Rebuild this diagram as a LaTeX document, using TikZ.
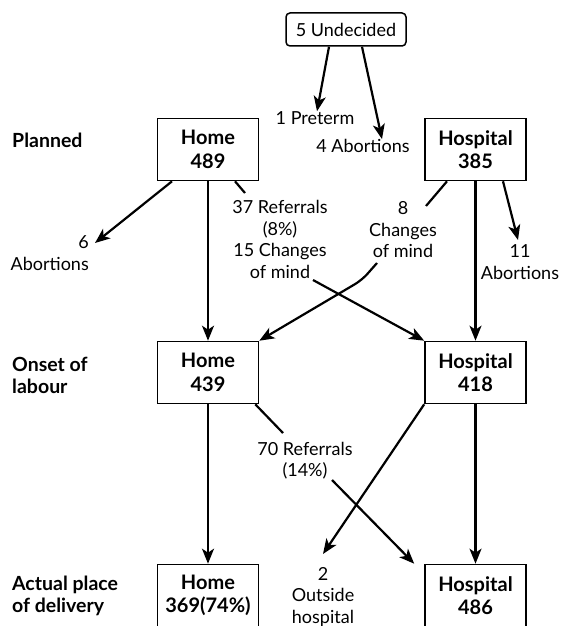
\documentclass[tikz,border=0pt]{standalone}
\usepackage{fontspec}
\setmainfont{Lato}
\usetikzlibrary{arrows.meta}
\begin{document}
\begin{tikzpicture}[x=1pt,y=-1pt,
  box/.style={draw,line width=1.6pt,minimum width=101pt,minimum height=62pt,inner sep=0pt,align=center,font=\bfseries\fontsize{20}{23.5}\selectfont},
  lbl/.style={inner sep=0pt,align=center,font=\fontsize{18}{21.5}\selectfont},
  rowlbl/.style={inner sep=0pt,align=left,anchor=west,font=\bfseries\fontsize{19.5}{22.5}\selectfont},
  con/.style={line width=2.2pt},
  arr/.style={con,-{Stealth[length=15pt,width=12pt,inset=4pt]}},
]
\path[use as bounding box] (0,0) rectangle (560,626);

% top
\node[draw,line width=1.5pt,rounded corners=4pt,minimum width=120pt,minimum height=33pt,inner sep=0pt,font=\fontsize{18}{21}\selectfont] (und) at (346,29.5) {5 Undecided};
\node[lbl] (pre) at (315,118) {1 Preterm};
\node[lbl] (ab4) at (363,146) {4 Abortions};
\draw[arr] ([xshift=-17pt]und.south) -- ([xshift=2pt]pre.north);
\draw[arr] ([xshift=16pt]und.south) -- ([xshift=19pt]ab4.north);

% row labels
\node[rowlbl] (plan) at (12,140) {Planned};
\node[rowlbl] (onset) at (12,375.5) {Onset of\\labour};
\node[rowlbl] (actual) at (12,596) {Actual place\\of delivery};

% boxes
\node[box] (home1) at (208,149.5) {Home\\489};
\node[box] (hosp1) at (475.5,149.5) {Hospital\\385};
\node[box] (home2) at (208,372.5) {Home\\439};
\node[box] (hosp2) at (475.5,372.5) {Hospital\\418};
\node[box] (home3) at (208,595.5) {Home\\369(74\%)};
\node[box] (hosp3) at (475.5,595.5) {Hospital\\486};

% side labels
\node[lbl,align=right,anchor=east] (ab6) at (89,253) {6\\Abortions};
\node[lbl] (ref1) at (280,239.5) {37 Referrals\\(8\%)\\15 Changes\\of mind};
\node[lbl] (chg) at (403,230) {8\\Changes\\of mind};
\node[lbl] (ab11) at (520,262) {11\\Abortions};
\node[lbl] (ref2) at (305,460.5) {70 Referrals\\(14\%)};
\node[lbl] (out) at (323,597) {2\\Outside\\hospital};

% planned -> onset
\draw[arr] ([xshift=-36pt]home1.south) -- ([xshift=6pt,yshift=10pt]ab6.east);
\draw[arr] (home1.south) -- (home2.north);
\draw[con] ([xshift=27pt]home1.south) -- ([xshift=-35pt,yshift=46.5pt]ref1.center);
\draw[arr] ([xshift=33pt,yshift=-40.5pt]ref1.center) -- (hosp2.north west);
\draw[con] ([xshift=-28.5pt]hosp1.south) -- ([xshift=23pt,yshift=24pt]chg.center);
\draw[arr,rounded corners=8pt] ([xshift=-26pt,yshift=-33pt]chg.center) -- ++(-15,17) -- (home2.north east);
\draw[arr] (hosp1.south) -- (hosp2.north);
\draw[arr] ([xshift=27.5pt]hosp1.south) -- ([xshift=-2pt,yshift=22pt]ab11.center);

% onset -> actual
\draw[arr] (home2.south) -- (home3.north);
\draw[con] ([xshift=-4pt]home2.south east) -- ([xshift=-22pt,yshift=27.5pt]ref2.center);
\draw[arr] ([xshift=27pt,yshift=-19.5pt]ref2.center) -- ([xshift=-10pt]hosp3.north west);
\draw[arr] (hosp2.south west) -- ([yshift=43pt]out.center);
\draw[arr] (hosp2.south) -- (hosp3.north);
\end{tikzpicture}
\end{document}
